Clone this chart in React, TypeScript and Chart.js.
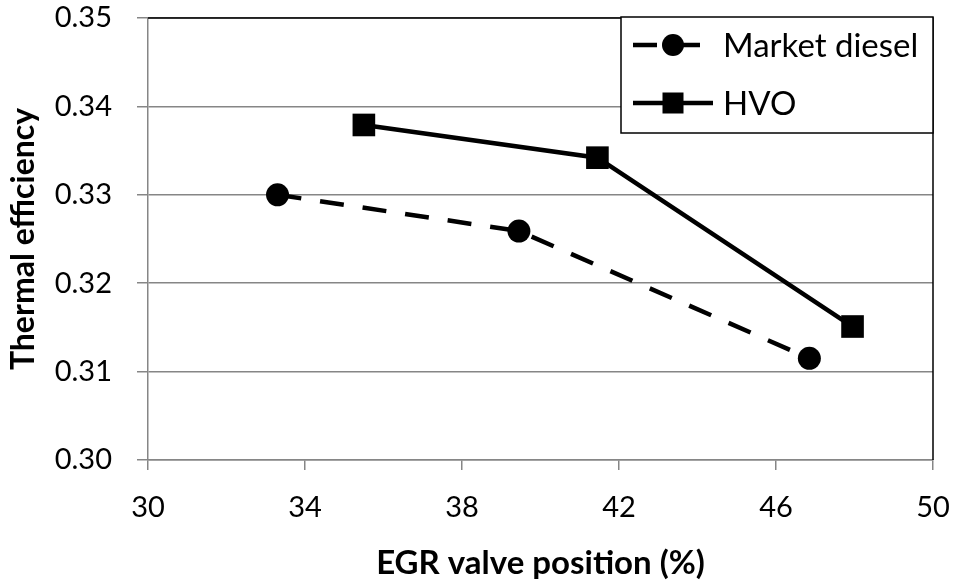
import { useEffect, useRef } from "react";
import { Chart, registerables } from "chart.js";

Chart.register(...registerables);

const seriesNames = ["Market diesel", "HVO"];
const dieselX = [33.3, 39.45, 46.85];
const dieselY = [0.33, 0.3259, 0.3115];
const hvoX = [35.5, 41.45, 47.95];
const hvoY = [0.3379, 0.3342, 0.3151];
const xAxisTitle = "EGR valve position (%)";
const yAxisTitle = "Thermal efficiency";
const xRange = [30, 50];
const xStep = 4;
const yRange = [0.3, 0.35];
const yStep = 0.01;

const FONT = "Lato, 'Open Sans', sans-serif";
const GRID = "#868686";

const framePlugin = {
  id: "frame",
  beforeDatasetsDraw(chart: any) {
    const { ctx, chartArea: a } = chart;
    ctx.save();
    ctx.strokeStyle = "#000";
    ctx.lineWidth = 1.5;
    ctx.beginPath();
    ctx.moveTo(a.left, a.top);
    ctx.lineTo(a.right, a.top);
    ctx.lineTo(a.right, a.bottom);
    ctx.stroke();
    ctx.restore();
  },
};

const legendPlugin = {
  id: "boxLegend",
  afterDatasetsDraw(chart: any) {
    const { ctx, chartArea: a } = chart;
    const w = 312;
    const h = 116;
    const x0 = a.right - w;
    const y0 = a.top - 1;
    ctx.save();
    ctx.fillStyle = "#fff";
    ctx.fillRect(x0, y0, w, h);
    ctx.strokeStyle = "#000";
    ctx.lineWidth = 1.5;
    ctx.strokeRect(x0, y0, w, h);
    const rows = [y0 + 28, y0 + 86];
    chart.data.datasets.forEach((ds: any, i: number) => {
      const y = rows[i];
      const lx0 = x0 + 12;
      const lx1 = x0 + (i === 0 ? 82 : 92);
      ctx.save();
      ctx.strokeStyle = "#000";
      ctx.lineWidth = 4.5;
      ctx.setLineDash(ds.borderDash || []);
      ctx.beginPath();
      ctx.moveTo(lx0, y);
      ctx.lineTo(lx1, y);
      ctx.stroke();
      ctx.restore();
      ctx.fillStyle = "#000";
      const cx = x0 + 52;
      if (ds.pointStyle === "rect") {
        ctx.fillRect(cx - 10.5, y - 10.5, 21, 21);
      } else {
        ctx.beginPath();
        ctx.arc(cx, y, 11, 0, Math.PI * 2);
        ctx.fill();
      }
      ctx.font = `33px ${FONT}`;
      ctx.textBaseline = "middle";
      ctx.textAlign = "left";
      ctx.fillText(ds.label, x0 + 102, y + 1);
    });
    ctx.restore();
  },
};

export default function App() {
  const ref = useRef<HTMLCanvasElement>(null);
  useEffect(() => {
    document.body.style.margin = "0";
    const canvas = ref.current!;
    const chart = new Chart(canvas, {
      type: "line",
      data: {
        datasets: [
          {
            label: seriesNames[0],
            data: dieselX.map((x, i) => ({ x, y: dieselY[i] })),
            borderColor: "#000",
            backgroundColor: "#000",
            borderWidth: 4.5,
            borderDash: [24, 19],
            pointStyle: "circle",
            pointRadius: 11.5,
            pointBorderWidth: 0,
            tension: 0,
          },
          {
            label: seriesNames[1],
            data: hvoX.map((x, i) => ({ x, y: hvoY[i] })),
            borderColor: "#000",
            backgroundColor: "#000",
            borderWidth: 4.5,
            pointStyle: "rect",
            pointRadius: 16,
            pointBorderWidth: 0,
            tension: 0,
          },
        ],
      },
      options: {
        animation: false,
        responsive: true,
        maintainAspectRatio: false,
        layout: { padding: { top: 18, right: 24, left: 0, bottom: 0 } },
        plugins: { legend: { display: false }, tooltip: { enabled: false } },
        scales: {
          x: {
            type: "linear",
            min: xRange[0],
            max: xRange[1],
            ticks: {
              stepSize: xStep,
              color: "#000",
              padding: 20,
              font: { family: FONT, size: 29 },
            },
            grid: { drawOnChartArea: false, drawTicks: true, tickLength: 10, color: GRID, lineWidth: 1.5 },
            border: { color: GRID, width: 1.5 },
            title: {
              display: true,
              text: xAxisTitle,
              color: "#000",
              font: { family: FONT, size: 33, weight: "bold" },
              padding: { top: 0, bottom: 1 },
            },
            afterFit(scale: any) {
              scale.height = 124;
              scale.paddingLeft = 0;
              scale.paddingRight = 0;
            },
          },
          y: {
            type: "linear",
            min: yRange[0],
            max: yRange[1],
            ticks: {
              stepSize: yStep,
              color: "#000",
              padding: 25,
              font: { family: FONT, size: 29 },
              callback: (v: any) => Number(v).toFixed(2),
            },
            grid: { drawOnChartArea: true, drawTicks: true, tickLength: 11, color: GRID, lineWidth: 1.5 },
            border: { color: GRID, width: 1.5 },
            title: {
              display: true,
              text: yAxisTitle,
              color: "#000",
              font: { family: FONT, size: 32, weight: "bold" },
              padding: { top: 4, bottom: 0 },
            },
            afterFit(scale: any) {
              scale.width = 148;
              scale.paddingTop = 0;
              scale.paddingBottom = 0;
            },
          },
        },
      },
      plugins: [framePlugin, legendPlugin],
    });
    return () => chart.destroy();
  }, []);
  return (
    <div style={{ width: 957, height: 584, position: "relative" }}>
      <canvas ref={ref} />
    </div>
  );
}
